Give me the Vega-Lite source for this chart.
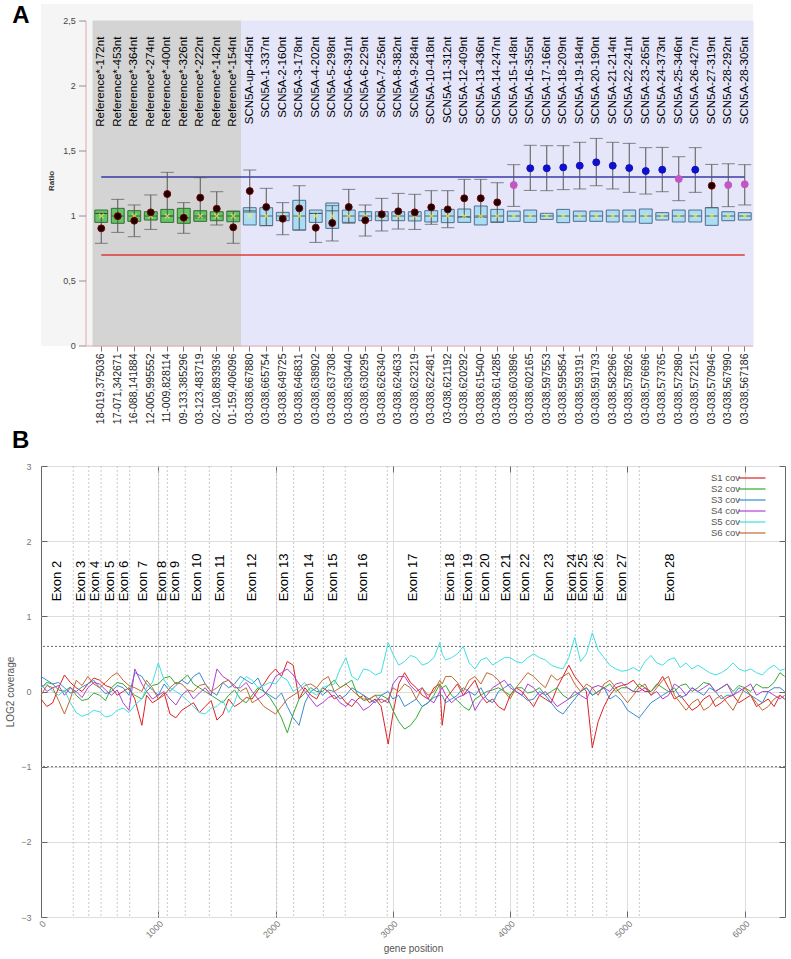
{
  "$schema": "https://vega.github.io/schema/vega-lite/v6.json",
  "padding": {"left": 5, "top": 4, "right": 0, "bottom": 0},
  "background": "white",
  "config": {"font": "Liberation Sans", "view": {"stroke": null}, "concat": {"spacing": 4}},
  "vconcat": [
    {
      "width": 712,
      "height": 342,
      "title": {"text": "A", "orient": "left", "anchor": "end", "angle": 0, "fontSize": 24, "fontWeight": "bold", "offset": -6, "baseline": "top", "color": "#000"},
      "view": {"fill": "#f5f5f5", "stroke": null},
      "data": {"values": [
        {"cat": "Reference*-172nt", "lab": "18-019,375036", "g": "ref", "q1": 0.951, "q3": 1.046, "med": 1.02, "dot": 0.905, "lo": 0.79, "hi": 1.02, "dc": "k"},
        {"cat": "Reference*-453nt", "lab": "17-071,342671", "g": "ref", "q1": 0.944, "q3": 1.059, "med": 1.0, "dot": 0.999, "lo": 0.874, "hi": 1.128, "dc": "k"},
        {"cat": "Reference*-364nt", "lab": "16-088,141884", "g": "ref", "q1": 0.959, "q3": 1.041, "med": 1.0, "dot": 0.964, "lo": 0.841, "hi": 1.085, "dc": "k"},
        {"cat": "Reference*-274nt", "lab": "12-005,995552", "g": "ref", "q1": 0.969, "q3": 1.033, "med": 1.0, "dot": 1.028, "lo": 0.897, "hi": 1.162, "dc": "k"},
        {"cat": "Reference*-400nt", "lab": "11-009,828114", "g": "ref", "q1": 0.951, "q3": 1.051, "med": 1.0, "dot": 1.169, "lo": 1.0, "hi": 1.336, "dc": "k"},
        {"cat": "Reference*-326nt", "lab": "09-133,385296", "g": "ref", "q1": 0.944, "q3": 1.059, "med": 0.985, "dot": 0.987, "lo": 0.867, "hi": 1.103, "dc": "k"},
        {"cat": "Reference*-222nt", "lab": "03-123,483719", "g": "ref", "q1": 0.959, "q3": 1.041, "med": 1.0, "dot": 1.141, "lo": 0.985, "hi": 1.295, "dc": "k"},
        {"cat": "Reference*-142nt", "lab": "02-108,893936", "g": "ref", "q1": 0.964, "q3": 1.033, "med": 1.0, "dot": 1.056, "lo": 0.931, "hi": 1.187, "dc": "k"},
        {"cat": "Reference*-154nt", "lab": "01-159,406096", "g": "ref", "q1": 0.956, "q3": 1.038, "med": 1.0, "dot": 0.913, "lo": 0.79, "hi": 1.035, "dc": "k"},
        {"cat": "SCN5A-up-445nt", "lab": "03-038,667880", "g": "scn", "q1": 0.931, "q3": 1.064, "med": 1.04, "dot": 1.192, "lo": 1.03, "hi": 1.354, "dc": "k"},
        {"cat": "SCN5A-1-337nt", "lab": "03-038,665754", "g": "scn", "q1": 0.926, "q3": 1.064, "med": 1.0, "dot": 1.069, "lo": 0.926, "hi": 1.213, "dc": "k"},
        {"cat": "SCN5A-2-160nt", "lab": "03-038,649725", "g": "scn", "q1": 0.964, "q3": 1.028, "med": 1.0, "dot": 0.979, "lo": 0.856, "hi": 1.103, "dc": "k"},
        {"cat": "SCN5A-3-178nt", "lab": "03-038,646831", "g": "scn", "q1": 0.892, "q3": 1.121, "med": 1.0, "dot": 1.059, "lo": 0.892, "hi": 1.233, "dc": "k"},
        {"cat": "SCN5A-4-202nt", "lab": "03-038,638902", "g": "scn", "q1": 0.951, "q3": 1.046, "med": 1.02, "dot": 0.91, "lo": 0.797, "hi": 1.02, "dc": "k"},
        {"cat": "SCN5A-5-298nt", "lab": "03-038,637308", "g": "scn", "q1": 0.905, "q3": 1.1, "med": 1.04, "dot": 0.946, "lo": 0.808, "hi": 1.08, "dc": "k"},
        {"cat": "SCN5A-6-391nt", "lab": "03-038,630440", "g": "scn", "q1": 0.951, "q3": 1.046, "med": 1.0, "dot": 1.069, "lo": 0.944, "hi": 1.205, "dc": "k"},
        {"cat": "SCN5A-6-229nt", "lab": "03-038,630295", "g": "scn", "q1": 0.964, "q3": 1.033, "med": 1.0, "dot": 0.967, "lo": 0.846, "hi": 1.085, "dc": "k"},
        {"cat": "SCN5A-7-256nt", "lab": "03-038,626340", "g": "scn", "q1": 0.964, "q3": 1.033, "med": 1.0, "dot": 1.013, "lo": 0.885, "hi": 1.136, "dc": "k"},
        {"cat": "SCN5A-8-382nt", "lab": "03-038,624633", "g": "scn", "q1": 0.964, "q3": 1.033, "med": 1.0, "dot": 1.036, "lo": 0.9, "hi": 1.174, "dc": "k"},
        {"cat": "SCN5A-9-284nt", "lab": "03-038,623219", "g": "scn", "q1": 0.962, "q3": 1.033, "med": 1.0, "dot": 1.028, "lo": 0.897, "hi": 1.167, "dc": "k"},
        {"cat": "SCN5A-10-418nt", "lab": "03-038,622481", "g": "scn", "q1": 0.954, "q3": 1.041, "med": 1.0, "dot": 1.067, "lo": 0.936, "hi": 1.195, "dc": "k"},
        {"cat": "SCN5A-11-312nt", "lab": "03-038,621192", "g": "scn", "q1": 0.949, "q3": 1.051, "med": 1.0, "dot": 1.051, "lo": 0.91, "hi": 1.195, "dc": "k"},
        {"cat": "SCN5A-12-409nt", "lab": "03-038,620292", "g": "scn", "q1": 0.951, "q3": 1.054, "med": 0.995, "dot": 1.136, "lo": 0.99, "hi": 1.282, "dc": "k"},
        {"cat": "SCN5A-13-436nt", "lab": "03-038,615400", "g": "scn", "q1": 0.931, "q3": 1.077, "med": 1.0, "dot": 1.136, "lo": 0.99, "hi": 1.282, "dc": "k"},
        {"cat": "SCN5A-14-247nt", "lab": "03-038,614285", "g": "scn", "q1": 0.951, "q3": 1.051, "med": 1.0, "dot": 1.105, "lo": 0.955, "hi": 1.256, "dc": "k"},
        {"cat": "SCN5A-15-148nt", "lab": "03-038,603896", "g": "scn", "q1": 0.959, "q3": 1.038, "med": 1.0, "dot": 1.238, "lo": 1.074, "hi": 1.395, "dc": "m"},
        {"cat": "SCN5A-16-355nt", "lab": "03-038,602165", "g": "scn", "q1": 0.951, "q3": 1.046, "med": 1.0, "dot": 1.367, "lo": 1.197, "hi": 1.544, "dc": "b"},
        {"cat": "SCN5A-17-166nt", "lab": "03-038,597553", "g": "scn", "q1": 0.974, "q3": 1.021, "med": 1.0, "dot": 1.367, "lo": 1.195, "hi": 1.541, "dc": "b"},
        {"cat": "SCN5A-18-209nt", "lab": "03-038,595854", "g": "scn", "q1": 0.949, "q3": 1.051, "med": 1.0, "dot": 1.374, "lo": 1.203, "hi": 1.541, "dc": "b"},
        {"cat": "SCN5A-19-184nt", "lab": "03-038,593191", "g": "scn", "q1": 0.959, "q3": 1.038, "med": 1.0, "dot": 1.387, "lo": 1.208, "hi": 1.567, "dc": "b"},
        {"cat": "SCN5A-20-190nt", "lab": "03-038,591793", "g": "scn", "q1": 0.959, "q3": 1.038, "med": 1.0, "dot": 1.413, "lo": 1.233, "hi": 1.597, "dc": "b"},
        {"cat": "SCN5A-21-214nt", "lab": "03-038,582966", "g": "scn", "q1": 0.954, "q3": 1.046, "med": 1.0, "dot": 1.387, "lo": 1.208, "hi": 1.567, "dc": "b"},
        {"cat": "SCN5A-22-241nt", "lab": "03-038,578926", "g": "scn", "q1": 0.954, "q3": 1.046, "med": 1.0, "dot": 1.369, "lo": 1.182, "hi": 1.559, "dc": "b"},
        {"cat": "SCN5A-23-265nt", "lab": "03-038,576696", "g": "scn", "q1": 0.944, "q3": 1.054, "med": 1.0, "dot": 1.346, "lo": 1.169, "hi": 1.526, "dc": "b"},
        {"cat": "SCN5A-24-373nt", "lab": "03-038,573765", "g": "scn", "q1": 0.969, "q3": 1.026, "med": 1.0, "dot": 1.356, "lo": 1.187, "hi": 1.528, "dc": "b"},
        {"cat": "SCN5A-25-346nt", "lab": "03-038,572980", "g": "scn", "q1": 0.954, "q3": 1.046, "med": 1.0, "dot": 1.285, "lo": 1.118, "hi": 1.456, "dc": "m"},
        {"cat": "SCN5A-26-427nt", "lab": "03-038,572215", "g": "scn", "q1": 0.954, "q3": 1.046, "med": 1.0, "dot": 1.356, "lo": 1.182, "hi": 1.526, "dc": "b"},
        {"cat": "SCN5A-27-319nt", "lab": "03-038,570946", "g": "scn", "q1": 0.928, "q3": 1.064, "med": 1.0, "dot": 1.233, "lo": 1.064, "hi": 1.397, "dc": "k"},
        {"cat": "SCN5A-28-292nt", "lab": "03-038,567990", "g": "scn", "q1": 0.964, "q3": 1.033, "med": 1.0, "dot": 1.238, "lo": 1.072, "hi": 1.402, "dc": "m"},
        {"cat": "SCN5A-28-305nt", "lab": "03-038,567186", "g": "scn", "q1": 0.969, "q3": 1.026, "med": 1.0, "dot": 1.244, "lo": 1.085, "hi": 1.395, "dc": "m"}
      ]},
      "encoding": {
        "x": {
          "field": "lab", "type": "nominal", "sort": null,
          "scale": {"domain": ["_a","_b","_c","18-019,375036","17-071,342671","16-088,141884","12-005,995552","11-009,828114","09-133,385296","03-123,483719","02-108,893936","01-159,406096","03-038,667880","03-038,665754","03-038,649725","03-038,646831","03-038,638902","03-038,637308","03-038,630440","03-038,630295","03-038,626340","03-038,624633","03-038,623219","03-038,622481","03-038,621192","03-038,620292","03-038,615400","03-038,614285","03-038,603896","03-038,602165","03-038,597553","03-038,595854","03-038,593191","03-038,591793","03-038,582966","03-038,578926","03-038,576696","03-038,573765","03-038,572980","03-038,572215","03-038,570946","03-038,567990","03-038,567186"], "paddingInner": 0, "paddingOuter": 0.076, "align": 1},
          "axis": {"title": null, "labelAngle": -90, "labelFontSize": 10.5, "labelColor": "#222", "tickSize": 5, "tickColor": "#777", "tickOpacity": {"condition": {"test": "slice(datum.value, 0, 1) == '_'", "value": 0}, "value": 1}, "labelExpr": "slice(datum.value, 0, 1) == '_' ? '' : datum.value", "domain": false, "labelPadding": 2, "labelOverlap": false}
        }
      },
      "layer": [
        {
          "mark": {"type": "rect", "strokeWidth": 1},
          "encoding": {
            "y": {"datum": 0, "type": "quantitative", "scale": {"domain": [0, 2.631], "nice": false}, "axis": null},
            "y2": {"datum": 2.5},
            "fill": {"condition": {"test": "datum.g == 'ref'", "value": "#d4d4d4"}, "value": "#e6e6fa"},
            "stroke": {"condition": {"test": "datum.g == 'ref'", "value": "#d4d4d4"}, "value": "#e6e6fa"}
          }
        },
        {
          "data": {"values": [{}]},
          "mark": {"type": "rule", "strokeWidth": 1, "color": "#e6a8a8", "xOffset": 1.25},
          "encoding": {
            "x": {"datum": "_c"},
            "y": {"datum": 0, "type": "quantitative", "scale": {"domain": [0, 2.631], "nice": false}, "axis": null},
            "y2": {"datum": 2.5}
          }
        },
        {
          "data": {"values": [{}]},
          "mark": {"type": "rule", "strokeWidth": 1, "color": "#e6a8a8", "xOffset": 1.25, "x2Offset": 8.25},
          "encoding": {
            "x": {"datum": "_c"},
            "x2": {"datum": "03-038,567186"},
            "y": {"datum": 0, "type": "quantitative", "scale": {"domain": [0, 2.631], "nice": false}, "axis": null}
          }
        },
        {
          "data": {"values": [{"t": 0, "l": "0"}, {"t": 0.5, "l": "0,5"}, {"t": 1, "l": "1"}, {"t": 1.5, "l": "1,5"}, {"t": 2, "l": "2"}, {"t": 2.5, "l": "2,5"}]},
          "mark": {"type": "tick", "size": 7, "thickness": 1, "color": "#666", "xOffset": -2.25},
          "encoding": {
            "x": {"datum": "_c"},
            "y": {"field": "t", "type": "quantitative", "scale": {"domain": [0, 2.631], "nice": false}, "axis": null}
          }
        },
        {
          "data": {"values": [{"t": 0, "l": "0"}, {"t": 0.5, "l": "0,5"}, {"t": 1, "l": "1"}, {"t": 1.5, "l": "1,5"}, {"t": 2, "l": "2"}, {"t": 2.5, "l": "2,5"}]},
          "mark": {"type": "text", "align": "right", "baseline": "middle", "dx": -9, "fontSize": 9, "color": "#444"},
          "encoding": {
            "x": {"datum": "_c"},
            "y": {"field": "t", "type": "quantitative", "scale": {"domain": [0, 2.631], "nice": false}, "axis": null},
            "text": {"field": "l"}
          }
        },
        {
          "data": {"values": [{"ttl": "Ratio"}]},
          "mark": {"type": "text", "angle": 270, "align": "center", "baseline": "middle", "fontSize": 8, "fontWeight": "bold", "color": "#333"},
          "encoding": {
            "x": {"datum": "_a"},
            "y": {"datum": 1.27, "type": "quantitative", "scale": {"domain": [0, 2.631], "nice": false}, "axis": null},
            "text": {"field": "ttl"}
          }
        },
        {
          "data": {"values": [{}]},
          "mark": {"type": "rule", "strokeWidth": 1.5, "color": "#3a3aa8"},
          "encoding": {
            "x": {"datum": "18-019,375036"},
            "x2": {"datum": "03-038,567186"},
            "y": {"datum": 1.3, "type": "quantitative", "scale": {"domain": [0, 2.631], "nice": false}, "axis": null}
          }
        },
        {
          "data": {"values": [{}]},
          "mark": {"type": "rule", "strokeWidth": 1.5, "color": "#e03a3a"},
          "encoding": {
            "x": {"datum": "18-019,375036"},
            "x2": {"datum": "03-038,567186"},
            "y": {"datum": 0.7, "type": "quantitative", "scale": {"domain": [0, 2.631], "nice": false}, "axis": null}
          }
        },
        {
          "mark": {"type": "bar", "width": {"band": 0.78}, "strokeWidth": 1},
          "encoding": {
            "y": {"field": "q1", "type": "quantitative", "scale": {"domain": [0, 2.631], "nice": false}, "axis": null},
            "y2": {"field": "q3"},
            "fill": {"condition": {"test": "datum.g == 'ref'", "value": "#66c466"}, "value": "#aadcf4"},
            "stroke": {"condition": {"test": "datum.g == 'ref'", "value": "#2f6f2f"}, "value": "#4d6f8f"}
          }
        },
        {
          "mark": {"type": "rule", "strokeWidth": 1, "color": "#555"},
          "encoding": {
            "y": {"field": "lo", "type": "quantitative", "scale": {"domain": [0, 2.631], "nice": false}, "axis": null},
            "y2": {"field": "hi"}
          }
        },
        {
          "mark": {"type": "tick", "size": 13, "thickness": 1, "color": "#555"},
          "encoding": {
            "y": {"field": "lo", "type": "quantitative", "scale": {"domain": [0, 2.631], "nice": false}, "axis": null}
          }
        },
        {
          "mark": {"type": "tick", "size": 13, "thickness": 1, "color": "#555"},
          "encoding": {
            "y": {"field": "hi", "type": "quantitative", "scale": {"domain": [0, 2.631], "nice": false}, "axis": null}
          }
        },
        {
          "mark": {"type": "tick", "size": 12, "thickness": 1, "color": "#333"},
          "encoding": {
            "y": {"field": "med", "type": "quantitative", "scale": {"domain": [0, 2.631], "nice": false}, "axis": null}
          }
        },
        {
          "mark": {"type": "point", "shape": "M-1,-1L1,1M-1,1L1,-1", "filled": false, "stroke": "#f4f460", "strokeWidth": 1.3, "size": 22},
          "encoding": {
            "y": {"datum": 1.0, "type": "quantitative", "scale": {"domain": [0, 2.631], "nice": false}, "axis": null}
          }
        },
        {
          "mark": {"type": "point", "filled": true, "size": 48, "opacity": 1, "strokeWidth": 1},
          "encoding": {
            "y": {"field": "dot", "type": "quantitative", "scale": {"domain": [0, 2.631], "nice": false}, "axis": null},
            "fill": {"condition": [{"test": "datum.dc == 'b'", "value": "#1010c8"}, {"test": "datum.dc == 'm'", "value": "#c456c4"}], "value": "#1a0000"},
            "stroke": {"condition": [{"test": "datum.dc == 'b'", "value": "#1010c8"}, {"test": "datum.dc == 'm'", "value": "#c456c4"}], "value": "#7a0000"}
          }
        },
        {
          "mark": {"type": "text", "angle": 270, "align": "right", "baseline": "middle", "fontSize": 11.5, "color": "#000"},
          "encoding": {
            "y": {"datum": 2.38, "type": "quantitative", "scale": {"domain": [0, 2.631], "nice": false}, "axis": null},
            "text": {"field": "cat"}
          }
        }
      ]
    },
    {
      "width": 744,
      "height": 451,
      "title": {"text": "B", "anchor": "start", "frame": "group", "dx": -29, "fontSize": 24, "fontWeight": "bold", "offset": 9, "color": "#000"},
      "view": {"stroke": "#666", "strokeWidth": 1},
      "layer": [
        {
          "data": {"values": [{"b": 275}, {"b": 407}, {"b": 512}, {"b": 650}, {"b": 756}, {"b": 1003}, {"b": 1077}, {"b": 1230}, {"b": 1435}, {"b": 1622}, {"b": 2009}, {"b": 2154}, {"b": 2407}, {"b": 2594}, {"b": 2952}, {"b": 3407}, {"b": 3575}, {"b": 3708}, {"b": 3876}, {"b": 4060}, {"b": 4200}, {"b": 4487}, {"b": 4555}, {"b": 4703}, {"b": 4823}, {"b": 5101}]},
          "mark": {"type": "rule", "color": "#bbb", "strokeWidth": 0.8, "strokeDash": [2, 2]},
          "encoding": {
            "x": {"field": "b", "type": "quantitative", "scale": {"domain": [0, 6343], "nice": false, "zero": false}, "axis": {"orient": "top", "labels": false, "title": null, "domain": false, "values": [1000, 2000, 3000, 4000, 5000, 6000], "tickSize": -6, "tickColor": "#666"}}
          }
        },
        {
          "data": {"values": [{"h": 0.6}, {"h": -1}]},
          "mark": {"type": "rule", "color": "#444", "strokeWidth": 0.8, "strokeDash": [2, 2]},
          "encoding": {
            "y": {"field": "h", "type": "quantitative", "scale": {"domain": [-3, 3], "nice": false}, "axis": {"orient": "right", "labels": false, "title": null, "domain": false, "values": [-3, -2, -1, 0, 1, 2, 3], "tickSize": -6, "tickColor": "#666"}}
          }
        },
        {
          "data": {"values": [
            {"p": 0, "S1 cov": -0.1, "S2 cov": 0.05, "S3 cov": 0.2, "S4 cov": 0.1, "S5 cov": 0.05, "S6 cov": -0.05},
            {"p": 100, "S1 cov": -0.15, "S2 cov": 0.1, "S3 cov": 0.1, "S4 cov": 0.05, "S5 cov": 0.0, "S6 cov": 0.05},
            {"p": 200, "S1 cov": 0.22, "S2 cov": 0.0, "S3 cov": 0.05, "S4 cov": -0.05, "S5 cov": 0.02, "S6 cov": -0.3},
            {"p": 300, "S1 cov": 0.05, "S2 cov": -0.05, "S3 cov": 0.0, "S4 cov": 0.0, "S5 cov": -0.28, "S6 cov": 0.15},
            {"p": 400, "S1 cov": 0.1, "S2 cov": -0.1, "S3 cov": 0.1, "S4 cov": 0.05, "S5 cov": -0.3, "S6 cov": 0.2},
            {"p": 500, "S1 cov": 0.15, "S2 cov": -0.05, "S3 cov": 0.05, "S4 cov": 0.1, "S5 cov": -0.27, "S6 cov": 0.05},
            {"p": 600, "S1 cov": 0.05, "S2 cov": 0.05, "S3 cov": 0.0, "S4 cov": -0.05, "S5 cov": -0.32, "S6 cov": 0.2},
            {"p": 700, "S1 cov": 0.0, "S2 cov": 0.1, "S3 cov": 0.05, "S4 cov": -0.15, "S5 cov": -0.22, "S6 cov": 0.15},
            {"p": 800, "S1 cov": -0.1, "S2 cov": -0.05, "S3 cov": 0.25, "S4 cov": 0.3, "S5 cov": -0.18, "S6 cov": 0.05},
            {"p": 860, "S1 cov": -0.45, "S2 cov": -0.1, "S3 cov": 0.2, "S4 cov": 0.1, "S5 cov": -0.1, "S6 cov": 0.0},
            {"p": 900, "S1 cov": -0.05, "S2 cov": 0.0, "S3 cov": 0.1, "S4 cov": 0.0, "S5 cov": 0.05, "S6 cov": 0.15},
            {"p": 1000, "S1 cov": -0.1, "S2 cov": 0.1, "S3 cov": -0.05, "S4 cov": -0.05, "S5 cov": 0.38, "S6 cov": -0.1},
            {"p": 1100, "S1 cov": -0.3, "S2 cov": 0.2, "S3 cov": 0.0, "S4 cov": -0.1, "S5 cov": 0.05, "S6 cov": 0.05},
            {"p": 1200, "S1 cov": -0.25, "S2 cov": 0.15, "S3 cov": 0.15, "S4 cov": -0.05, "S5 cov": -0.05, "S6 cov": 0.1},
            {"p": 1300, "S1 cov": -0.15, "S2 cov": 0.1, "S3 cov": 0.2, "S4 cov": -0.1, "S5 cov": -0.2, "S6 cov": 0.0},
            {"p": 1400, "S1 cov": -0.2, "S2 cov": 0.0, "S3 cov": 0.1, "S4 cov": 0.05, "S5 cov": -0.3, "S6 cov": 0.1},
            {"p": 1500, "S1 cov": -0.38, "S2 cov": -0.1, "S3 cov": -0.05, "S4 cov": 0.3, "S5 cov": -0.2, "S6 cov": 0.05},
            {"p": 1600, "S1 cov": -0.1, "S2 cov": -0.05, "S3 cov": 0.05, "S4 cov": 0.15, "S5 cov": -0.28, "S6 cov": 0.15},
            {"p": 1700, "S1 cov": -0.15, "S2 cov": -0.1, "S3 cov": 0.2, "S4 cov": 0.05, "S5 cov": 0.1, "S6 cov": 0.0},
            {"p": 1800, "S1 cov": -0.1, "S2 cov": -0.05, "S3 cov": 0.1, "S4 cov": 0.0, "S5 cov": 0.15, "S6 cov": -0.15},
            {"p": 1900, "S1 cov": 0.1, "S2 cov": 0.0, "S3 cov": 0.0, "S4 cov": -0.05, "S5 cov": 0.08, "S6 cov": -0.2},
            {"p": 2000, "S1 cov": 0.3, "S2 cov": -0.2, "S3 cov": -0.1, "S4 cov": 0.2, "S5 cov": 0.1, "S6 cov": -0.3},
            {"p": 2100, "S1 cov": 0.4, "S2 cov": -0.55, "S3 cov": -0.2, "S4 cov": 0.3, "S5 cov": 0.15, "S6 cov": -0.1},
            {"p": 2200, "S1 cov": -0.1, "S2 cov": -0.1, "S3 cov": -0.45, "S4 cov": 0.1, "S5 cov": 0.05, "S6 cov": 0.0},
            {"p": 2300, "S1 cov": -0.05, "S2 cov": 0.05, "S3 cov": 0.0, "S4 cov": -0.1, "S5 cov": 0.0, "S6 cov": 0.1},
            {"p": 2400, "S1 cov": 0.05, "S2 cov": 0.0, "S3 cov": -0.05, "S4 cov": -0.15, "S5 cov": 0.05, "S6 cov": 0.15},
            {"p": 2500, "S1 cov": -0.1, "S2 cov": 0.15, "S3 cov": 0.0, "S4 cov": -0.05, "S5 cov": 0.1, "S6 cov": 0.0},
            {"p": 2600, "S1 cov": -0.15, "S2 cov": 0.1, "S3 cov": -0.05, "S4 cov": -0.2, "S5 cov": 0.45, "S6 cov": 0.1},
            {"p": 2700, "S1 cov": -0.1, "S2 cov": -0.05, "S3 cov": 0.0, "S4 cov": -0.15, "S5 cov": 0.15, "S6 cov": -0.05},
            {"p": 2800, "S1 cov": -0.15, "S2 cov": -0.1, "S3 cov": -0.1, "S4 cov": -0.2, "S5 cov": 0.28, "S6 cov": -0.1},
            {"p": 2900, "S1 cov": -0.2, "S2 cov": -0.05, "S3 cov": -0.05, "S4 cov": -0.1, "S5 cov": 0.25, "S6 cov": -0.15},
            {"p": 2960, "S1 cov": -0.7, "S2 cov": -0.1, "S3 cov": 0.0, "S4 cov": -0.15, "S5 cov": 0.65, "S6 cov": -0.1},
            {"p": 3000, "S1 cov": -0.3, "S2 cov": -0.25, "S3 cov": -0.1, "S4 cov": 0.1, "S5 cov": 0.5, "S6 cov": 0.05},
            {"p": 3100, "S1 cov": 0.25, "S2 cov": -0.5, "S3 cov": -0.2, "S4 cov": 0.2, "S5 cov": 0.4, "S6 cov": 0.1},
            {"p": 3200, "S1 cov": 0.05, "S2 cov": -0.35, "S3 cov": -0.1, "S4 cov": 0.0, "S5 cov": 0.45, "S6 cov": -0.1},
            {"p": 3300, "S1 cov": -0.1, "S2 cov": -0.15, "S3 cov": -0.15, "S4 cov": -0.1, "S5 cov": 0.38, "S6 cov": -0.05},
            {"p": 3400, "S1 cov": 0.1, "S2 cov": 0.1, "S3 cov": -0.05, "S4 cov": 0.0, "S5 cov": 0.65, "S6 cov": 0.15},
            {"p": 3420, "S1 cov": -0.45, "S2 cov": 0.05, "S3 cov": -0.05, "S4 cov": 0.05, "S5 cov": 0.5, "S6 cov": 0.1},
            {"p": 3500, "S1 cov": 0.0, "S2 cov": -0.05, "S3 cov": -0.1, "S4 cov": -0.15, "S5 cov": 0.45, "S6 cov": 0.2},
            {"p": 3600, "S1 cov": -0.05, "S2 cov": -0.2, "S3 cov": 0.05, "S4 cov": -0.05, "S5 cov": 0.6, "S6 cov": 0.0},
            {"p": 3700, "S1 cov": 0.15, "S2 cov": -0.1, "S3 cov": -0.05, "S4 cov": -0.25, "S5 cov": 0.3, "S6 cov": 0.2},
            {"p": 3800, "S1 cov": -0.15, "S2 cov": 0.0, "S3 cov": -0.1, "S4 cov": -0.05, "S5 cov": 0.45, "S6 cov": 0.25},
            {"p": 3900, "S1 cov": -0.2, "S2 cov": 0.05, "S3 cov": 0.0, "S4 cov": 0.1, "S5 cov": 0.4, "S6 cov": 0.15},
            {"p": 4000, "S1 cov": -0.05, "S2 cov": -0.05, "S3 cov": 0.1, "S4 cov": 0.05, "S5 cov": 0.45, "S6 cov": -0.1},
            {"p": 4100, "S1 cov": 0.0, "S2 cov": 0.05, "S3 cov": -0.05, "S4 cov": -0.05, "S5 cov": 0.38, "S6 cov": 0.15},
            {"p": 4200, "S1 cov": -0.2, "S2 cov": 0.0, "S3 cov": -0.1, "S4 cov": 0.05, "S5 cov": 0.5, "S6 cov": 0.2},
            {"p": 4300, "S1 cov": -0.1, "S2 cov": -0.05, "S3 cov": -0.05, "S4 cov": 0.0, "S5 cov": 0.42, "S6 cov": 0.05},
            {"p": 4400, "S1 cov": 0.05, "S2 cov": 0.05, "S3 cov": -0.25, "S4 cov": -0.2, "S5 cov": 0.32, "S6 cov": 0.15},
            {"p": 4500, "S1 cov": 0.35, "S2 cov": -0.1, "S3 cov": -0.2, "S4 cov": -0.1, "S5 cov": 0.45, "S6 cov": 0.25},
            {"p": 4550, "S1 cov": 0.2, "S2 cov": -0.05, "S3 cov": -0.1, "S4 cov": 0.0, "S5 cov": 0.72, "S6 cov": 0.1},
            {"p": 4600, "S1 cov": 0.1, "S2 cov": 0.0, "S3 cov": 0.0, "S4 cov": -0.05, "S5 cov": 0.4, "S6 cov": 0.0},
            {"p": 4700, "S1 cov": -0.75, "S2 cov": -0.05, "S3 cov": -0.05, "S4 cov": 0.05, "S5 cov": 0.78, "S6 cov": 0.05},
            {"p": 4800, "S1 cov": -0.2, "S2 cov": 0.05, "S3 cov": 0.05, "S4 cov": 0.05, "S5 cov": 0.45, "S6 cov": 0.1},
            {"p": 4900, "S1 cov": 0.05, "S2 cov": 0.0, "S3 cov": -0.05, "S4 cov": 0.1, "S5 cov": 0.3, "S6 cov": 0.05},
            {"p": 5000, "S1 cov": 0.1, "S2 cov": 0.05, "S3 cov": -0.25, "S4 cov": 0.05, "S5 cov": 0.28, "S6 cov": -0.15},
            {"p": 5100, "S1 cov": 0.05, "S2 cov": 0.1, "S3 cov": -0.35, "S4 cov": 0.0, "S5 cov": 0.27, "S6 cov": 0.05},
            {"p": 5200, "S1 cov": 0.0, "S2 cov": 0.0, "S3 cov": -0.15, "S4 cov": -0.05, "S5 cov": 0.48, "S6 cov": -0.05},
            {"p": 5300, "S1 cov": 0.2, "S2 cov": 0.05, "S3 cov": -0.05, "S4 cov": -0.1, "S5 cov": 0.35, "S6 cov": 0.15},
            {"p": 5400, "S1 cov": -0.1, "S2 cov": 0.0, "S3 cov": 0.05, "S4 cov": 0.1, "S5 cov": 0.45, "S6 cov": -0.05},
            {"p": 5500, "S1 cov": -0.15, "S2 cov": 0.1, "S3 cov": -0.05, "S4 cov": -0.05, "S5 cov": 0.38, "S6 cov": -0.25},
            {"p": 5600, "S1 cov": -0.2, "S2 cov": 0.05, "S3 cov": 0.0, "S4 cov": 0.0, "S5 cov": 0.35, "S6 cov": -0.1},
            {"p": 5700, "S1 cov": -0.05, "S2 cov": 0.1, "S3 cov": 0.05, "S4 cov": 0.1, "S5 cov": 0.25, "S6 cov": -0.2},
            {"p": 5800, "S1 cov": -0.15, "S2 cov": 0.05, "S3 cov": -0.1, "S4 cov": 0.05, "S5 cov": 0.25, "S6 cov": -0.05},
            {"p": 5900, "S1 cov": -0.05, "S2 cov": 0.0, "S3 cov": -0.05, "S4 cov": -0.05, "S5 cov": 0.38, "S6 cov": -0.25},
            {"p": 6000, "S1 cov": -0.1, "S2 cov": 0.05, "S3 cov": 0.0, "S4 cov": 0.05, "S5 cov": 0.27, "S6 cov": 0.05},
            {"p": 6100, "S1 cov": -0.2, "S2 cov": 0.1, "S3 cov": -0.1, "S4 cov": -0.05, "S5 cov": 0.25, "S6 cov": -0.15},
            {"p": 6200, "S1 cov": -0.1, "S2 cov": 0.05, "S3 cov": 0.0, "S4 cov": 0.0, "S5 cov": 0.3, "S6 cov": -0.2},
            {"p": 6300, "S1 cov": -0.05, "S2 cov": 0.25, "S3 cov": 0.05, "S4 cov": -0.1, "S5 cov": 0.28, "S6 cov": -0.05},
            {"p": 6340, "S1 cov": -0.1, "S2 cov": 0.2, "S3 cov": 0.0, "S4 cov": -0.05, "S5 cov": 0.3, "S6 cov": -0.1},
            {"p": 50, "S1 cov": -0.2, "S2 cov": 0.12, "S3 cov": 0.15, "S4 cov": 0.0, "S5 cov": 0.1, "S6 cov": 0.08},
            {"p": 150, "S1 cov": 0.05, "S2 cov": 0.02, "S3 cov": 0.12, "S4 cov": 0.08, "S5 cov": -0.05, "S6 cov": -0.12},
            {"p": 250, "S1 cov": 0.12, "S2 cov": 0.06, "S3 cov": -0.02, "S4 cov": 0.05, "S5 cov": -0.15, "S6 cov": -0.1},
            {"p": 350, "S1 cov": 0.0, "S2 cov": -0.12, "S3 cov": 0.06, "S4 cov": -0.08, "S5 cov": -0.33, "S6 cov": 0.08},
            {"p": 450, "S1 cov": 0.18, "S2 cov": -0.02, "S3 cov": 0.15, "S4 cov": 0.12, "S5 cov": -0.25, "S6 cov": 0.1},
            {"p": 550, "S1 cov": 0.08, "S2 cov": -0.12, "S3 cov": -0.03, "S4 cov": 0.02, "S5 cov": -0.34, "S6 cov": 0.12},
            {"p": 650, "S1 cov": -0.05, "S2 cov": 0.12, "S3 cov": 0.08, "S4 cov": 0.02, "S5 cov": -0.25, "S6 cov": 0.25},
            {"p": 750, "S1 cov": 0.05, "S2 cov": 0.02, "S3 cov": -0.05, "S4 cov": -0.25, "S5 cov": -0.28, "S6 cov": 0.08},
            {"p": 950, "S1 cov": -0.15, "S2 cov": 0.08, "S3 cov": 0.02, "S4 cov": -0.1, "S5 cov": 0.12, "S6 cov": 0.05},
            {"p": 1050, "S1 cov": -0.02, "S2 cov": 0.18, "S3 cov": 0.1, "S4 cov": 0.0, "S5 cov": 0.15, "S6 cov": -0.05},
            {"p": 1150, "S1 cov": -0.35, "S2 cov": 0.1, "S3 cov": 0.08, "S4 cov": -0.18, "S5 cov": 0.0, "S6 cov": 0.12},
            {"p": 1250, "S1 cov": -0.2, "S2 cov": 0.22, "S3 cov": 0.1, "S4 cov": 0.02, "S5 cov": -0.12, "S6 cov": 0.02},
            {"p": 1350, "S1 cov": -0.28, "S2 cov": 0.05, "S3 cov": 0.25, "S4 cov": -0.02, "S5 cov": -0.28, "S6 cov": 0.08},
            {"p": 1450, "S1 cov": -0.12, "S2 cov": -0.05, "S3 cov": 0.0, "S4 cov": -0.05, "S5 cov": -0.22, "S6 cov": 0.0},
            {"p": 1550, "S1 cov": -0.3, "S2 cov": -0.15, "S3 cov": 0.12, "S4 cov": 0.2, "S5 cov": -0.12, "S6 cov": 0.12},
            {"p": 1650, "S1 cov": -0.2, "S2 cov": 0.02, "S3 cov": 0.1, "S4 cov": 0.05, "S5 cov": -0.15, "S6 cov": 0.08},
            {"p": 1750, "S1 cov": -0.08, "S2 cov": -0.15, "S3 cov": 0.15, "S4 cov": 0.12, "S5 cov": 0.2, "S6 cov": 0.05},
            {"p": 1850, "S1 cov": 0.02, "S2 cov": 0.05, "S3 cov": 0.18, "S4 cov": -0.1, "S5 cov": 0.05, "S6 cov": -0.1},
            {"p": 1950, "S1 cov": 0.22, "S2 cov": -0.08, "S3 cov": -0.05, "S4 cov": 0.05, "S5 cov": 0.12, "S6 cov": -0.25},
            {"p": 2050, "S1 cov": 0.2, "S2 cov": -0.35, "S3 cov": -0.02, "S4 cov": 0.25, "S5 cov": 0.2, "S6 cov": -0.2},
            {"p": 2150, "S1 cov": 0.35, "S2 cov": -0.3, "S3 cov": -0.35, "S4 cov": 0.22, "S5 cov": 0.0, "S6 cov": -0.05},
            {"p": 2250, "S1 cov": 0.05, "S2 cov": -0.02, "S3 cov": -0.15, "S4 cov": 0.0, "S5 cov": 0.12, "S6 cov": 0.08},
            {"p": 2350, "S1 cov": -0.1, "S2 cov": 0.0, "S3 cov": 0.05, "S4 cov": -0.2, "S5 cov": -0.05, "S6 cov": 0.05},
            {"p": 2450, "S1 cov": 0.0, "S2 cov": 0.08, "S3 cov": 0.02, "S4 cov": -0.08, "S5 cov": 0.08, "S6 cov": 0.2},
            {"p": 2550, "S1 cov": -0.05, "S2 cov": 0.05, "S3 cov": -0.1, "S4 cov": -0.15, "S5 cov": 0.3, "S6 cov": 0.05},
            {"p": 2650, "S1 cov": -0.2, "S2 cov": 0.15, "S3 cov": 0.05, "S4 cov": -0.1, "S5 cov": 0.2, "S6 cov": 0.02},
            {"p": 2750, "S1 cov": -0.05, "S2 cov": -0.12, "S3 cov": -0.05, "S4 cov": -0.25, "S5 cov": 0.3, "S6 cov": -0.1},
            {"p": 2850, "S1 cov": -0.1, "S2 cov": -0.05, "S3 cov": -0.15, "S4 cov": -0.12, "S5 cov": 0.22, "S6 cov": -0.05},
            {"p": 3050, "S1 cov": 0.1, "S2 cov": -0.4, "S3 cov": -0.05, "S4 cov": 0.2, "S5 cov": 0.35, "S6 cov": 0.0},
            {"p": 3150, "S1 cov": 0.12, "S2 cov": -0.45, "S3 cov": -0.15, "S4 cov": 0.08, "S5 cov": 0.48, "S6 cov": 0.05},
            {"p": 3250, "S1 cov": -0.05, "S2 cov": -0.2, "S3 cov": -0.2, "S4 cov": 0.05, "S5 cov": 0.35, "S6 cov": 0.05},
            {"p": 3350, "S1 cov": 0.05, "S2 cov": -0.05, "S3 cov": -0.08, "S4 cov": -0.15, "S5 cov": 0.45, "S6 cov": 0.0},
            {"p": 3450, "S1 cov": -0.1, "S2 cov": 0.08, "S3 cov": -0.15, "S4 cov": -0.05, "S5 cov": 0.42, "S6 cov": 0.2},
            {"p": 3550, "S1 cov": 0.1, "S2 cov": -0.12, "S3 cov": -0.05, "S4 cov": -0.08, "S5 cov": 0.5, "S6 cov": 0.12},
            {"p": 3650, "S1 cov": 0.05, "S2 cov": -0.25, "S3 cov": 0.0, "S4 cov": 0.0, "S5 cov": 0.38, "S6 cov": 0.15},
            {"p": 3750, "S1 cov": -0.05, "S2 cov": -0.05, "S3 cov": 0.05, "S4 cov": -0.12, "S5 cov": 0.42, "S6 cov": 0.1},
            {"p": 3850, "S1 cov": -0.1, "S2 cov": 0.02, "S3 cov": -0.15, "S4 cov": 0.05, "S5 cov": 0.35, "S6 cov": 0.22},
            {"p": 3950, "S1 cov": -0.25, "S2 cov": 0.0, "S3 cov": 0.05, "S4 cov": 0.15, "S5 cov": 0.45, "S6 cov": 0.0},
            {"p": 4050, "S1 cov": 0.05, "S2 cov": 0.05, "S3 cov": 0.0, "S4 cov": 0.0, "S5 cov": 0.4, "S6 cov": 0.05},
            {"p": 4150, "S1 cov": -0.1, "S2 cov": -0.02, "S3 cov": -0.12, "S4 cov": 0.1, "S5 cov": 0.45, "S6 cov": 0.25},
            {"p": 4250, "S1 cov": -0.05, "S2 cov": 0.05, "S3 cov": 0.0, "S4 cov": -0.05, "S5 cov": 0.45, "S6 cov": 0.12},
            {"p": 4350, "S1 cov": -0.15, "S2 cov": 0.0, "S3 cov": -0.15, "S4 cov": -0.1, "S5 cov": 0.35, "S6 cov": 0.22},
            {"p": 4450, "S1 cov": 0.2, "S2 cov": -0.05, "S3 cov": -0.3, "S4 cov": -0.15, "S5 cov": 0.3, "S6 cov": 0.2},
            {"p": 4650, "S1 cov": 0.0, "S2 cov": 0.05, "S3 cov": 0.05, "S4 cov": -0.1, "S5 cov": 0.5, "S6 cov": 0.1},
            {"p": 4750, "S1 cov": -0.4, "S2 cov": 0.0, "S3 cov": 0.0, "S4 cov": 0.08, "S5 cov": 0.55, "S6 cov": -0.05},
            {"p": 4850, "S1 cov": -0.05, "S2 cov": 0.1, "S3 cov": -0.1, "S4 cov": 0.0, "S5 cov": 0.35, "S6 cov": 0.15},
            {"p": 4950, "S1 cov": 0.08, "S2 cov": 0.05, "S3 cov": -0.12, "S4 cov": 0.12, "S5 cov": 0.27, "S6 cov": -0.05},
            {"p": 5050, "S1 cov": 0.15, "S2 cov": 0.0, "S3 cov": -0.3, "S4 cov": 0.0, "S5 cov": 0.32, "S6 cov": -0.05},
            {"p": 5150, "S1 cov": 0.0, "S2 cov": 0.05, "S3 cov": -0.25, "S4 cov": 0.05, "S5 cov": 0.4, "S6 cov": 0.1},
            {"p": 5250, "S1 cov": 0.08, "S2 cov": 0.1, "S3 cov": -0.1, "S4 cov": 0.0, "S5 cov": 0.38, "S6 cov": 0.05},
            {"p": 5350, "S1 cov": 0.05, "S2 cov": 0.0, "S3 cov": 0.0, "S4 cov": -0.05, "S5 cov": 0.42, "S6 cov": 0.2},
            {"p": 5450, "S1 cov": -0.05, "S2 cov": 0.08, "S3 cov": -0.08, "S4 cov": 0.05, "S5 cov": 0.32, "S6 cov": -0.15},
            {"p": 5550, "S1 cov": -0.25, "S2 cov": 0.0, "S3 cov": 0.05, "S4 cov": 0.05, "S5 cov": 0.3, "S6 cov": -0.15},
            {"p": 5650, "S1 cov": -0.1, "S2 cov": 0.12, "S3 cov": -0.05, "S4 cov": 0.05, "S5 cov": 0.3, "S6 cov": -0.25},
            {"p": 5750, "S1 cov": -0.2, "S2 cov": 0.0, "S3 cov": 0.0, "S4 cov": 0.0, "S5 cov": 0.22, "S6 cov": -0.1},
            {"p": 5850, "S1 cov": -0.08, "S2 cov": 0.1, "S3 cov": -0.05, "S4 cov": 0.1, "S5 cov": 0.3, "S6 cov": -0.15},
            {"p": 5950, "S1 cov": -0.15, "S2 cov": 0.08, "S3 cov": 0.05, "S4 cov": 0.0, "S5 cov": 0.3, "S6 cov": -0.1},
            {"p": 6050, "S1 cov": -0.05, "S2 cov": 0.0, "S3 cov": -0.05, "S4 cov": 0.1, "S5 cov": 0.3, "S6 cov": -0.05},
            {"p": 6150, "S1 cov": -0.15, "S2 cov": 0.05, "S3 cov": -0.15, "S4 cov": 0.0, "S5 cov": 0.22, "S6 cov": -0.25},
            {"p": 6250, "S1 cov": -0.2, "S2 cov": 0.12, "S3 cov": 0.05, "S4 cov": -0.05, "S5 cov": 0.35, "S6 cov": -0.1}
          ]},
          "transform": [{"fold": ["S1 cov", "S2 cov", "S3 cov", "S4 cov", "S5 cov", "S6 cov"], "as": ["s", "v"]}],
          "mark": {"type": "line", "strokeWidth": 1},
          "encoding": {
            "x": {"field": "p", "type": "quantitative", "scale": {"domain": [0, 6343], "nice": false, "zero": false}, "axis": {"title": "gene position", "titleFontSize": 10, "titleFontWeight": "normal", "titleColor": "#555", "titlePadding": 4, "values": [0, 1000, 2000, 3000, 4000, 5000, 6000], "format": "d", "labelAngle": -45, "labelFontSize": 9, "labelColor": "#777", "tickSize": -6, "tickColor": "#666", "domain": false, "labelPadding": 8, "grid": false}},
            "y": {"field": "v", "type": "quantitative", "scale": {"domain": [-3, 3], "nice": false}, "axis": {"title": "LOG2 coverage", "titleFontSize": 10, "titleFontWeight": "normal", "titleColor": "#555", "titlePadding": 5, "values": [-3, -2, -1, 0, 1, 2, 3], "labelFontSize": 9, "labelColor": "#777", "ticks": false, "domain": false, "labelPadding": 10, "grid": false}},
            "color": {"field": "s", "type": "nominal", "scale": {"domain": ["S1 cov", "S2 cov", "S3 cov", "S4 cov", "S5 cov", "S6 cov"], "range": ["#dd2222", "#33aa33", "#3a8ad0", "#b040d0", "#40e0e0", "#c06a30"]}, "legend": {"orient": "none", "direction": "vertical", "legendX": 705, "legendY": 468, "title": null, "symbolType": "M-2.7,0H2.7", "symbolSize": 100, "symbolStrokeWidth": 1.2, "labelFontSize": 9.5, "labelColor": "#555", "labelAlign": "right", "labelOffset": -18, "rowPadding": 0}}
          }
        },
        {
          "data": {"values": [{"e": "Exon 2", "p": 134}, {"e": "Exon 3", "p": 341}, {"e": "Exon 4", "p": 460}, {"e": "Exon 5", "p": 588}, {"e": "Exon 6", "p": 708}, {"e": "Exon 7", "p": 867}, {"e": "Exon 8", "p": 1034}, {"e": "Exon 9", "p": 1142}, {"e": "Exon 10", "p": 1327}, {"e": "Exon 11", "p": 1526}, {"e": "Exon 12", "p": 1801}, {"e": "Exon 13", "p": 2074}, {"e": "Exon 14", "p": 2282}, {"e": "Exon 15", "p": 2492}, {"e": "Exon 16", "p": 2748}, {"e": "Exon 17", "p": 3174}, {"e": "Exon 18", "p": 3487}, {"e": "Exon 19", "p": 3643}, {"e": "Exon 20", "p": 3785}, {"e": "Exon 21", "p": 3962}, {"e": "Exon 22", "p": 4126}, {"e": "Exon 23", "p": 4331}, {"e": "Exon 24", "p": 4525}, {"e": "Exon 25", "p": 4624}, {"e": "Exon 26", "p": 4757}, {"e": "Exon 27", "p": 4956}, {"e": "Exon 28", "p": 5362}]},
          "mark": {"type": "text", "angle": 270, "align": "left", "baseline": "middle", "fontSize": 13, "color": "#000"},
          "encoding": {
            "x": {"field": "p", "type": "quantitative", "scale": {"domain": [0, 6343], "nice": false, "zero": false}, "axis": null},
            "y": {"datum": 1.2, "type": "quantitative", "scale": {"domain": [-3, 3], "nice": false}, "axis": {"orient": "left", "labels": false, "title": null, "domain": false, "values": [-3, -2, -1, 0, 1, 2, 3], "tickSize": -6, "tickColor": "#666"}},
            "text": {"field": "e"}
          }
        }
      ],
      "resolve": {"axis": {"x": "independent", "y": "independent"}}
    }
  ]
}
